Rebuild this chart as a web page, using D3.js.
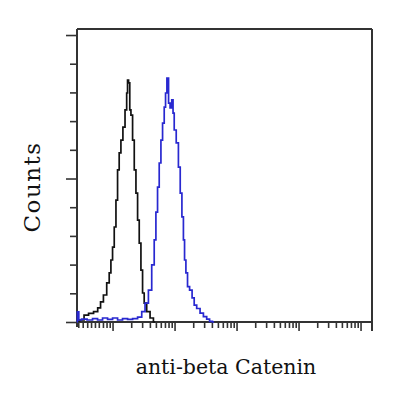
<!DOCTYPE html>
<html>
<head>
<meta charset="utf-8">
<script src="https://cdn.jsdelivr.net/npm/d3@7"></script>
<style>
  html, body { margin: 0; padding: 0; background: #fff; }
  svg { display: block; }
</style>
</head>
<body>
<div id="chart"></div>
<script>
// isotype control (black) : [intensity, count]
const controlSeries = [
  [0.268, 0.35], [0.322, 0.7], [0.374, 2.4], [0.450, 3.0], [0.542, 3.6], [0.612, 4.9],
  [0.670, 7.0], [0.757, 9.4], [0.856, 13.6], [0.911, 17.1], [0.971, 21.6], [1.03, 26.1],
  [1.10, 33.1], [1.17, 42.5], [1.24, 53.0], [1.32, 58.9], [1.41, 63.4], [1.53, 67.9],
  [1.65, 73.9], [1.73, 79.8], [1.76, 84.3], [1.87, 83.3], [1.92, 73.9], [2.04, 72.1],
  [2.17, 63.4], [2.31, 53.0], [2.46, 44.9], [2.61, 35.5], [2.78, 27.5], [2.96, 18.1],
  [3.14, 10.1], [3.34, 6.6], [3.78, 3.6], [4.29, 1.4], [4.85, 0]
];

// anti-beta Catenin (blue)
const stainedSeries = [
  [0.268, 0], [0.273, 3.5], [0.283, 3.5], [0.288, 0.7], [0.347, 1.0], [0.434, 0.7],
  [0.522, 1.2], [0.629, 0.7], [0.757, 1.4], [0.911, 0.9], [1.10, 1.4], [1.32, 0.7],
  [1.59, 1.2], [1.92, 0.9], [2.31, 1.2], [2.78, 1.7], [3.14, 3.6], [3.56, 6.6],
  [4.03, 11.1], [4.55, 19.9], [4.85, 28.6], [5.16, 38.3], [5.48, 47.0], [5.84, 55.4],
  [6.22, 63.4], [6.60, 69.3], [7.03, 74.9], [7.29, 79.8], [7.77, 85.0], [8.25, 76.3],
  [8.69, 74.6], [9.35, 77.4], [9.56, 72.8], [10.2, 66.9], [11.1, 62.4], [12.0, 54.0],
  [12.7, 44.9], [13.6, 36.6], [14.2, 28.6], [14.8, 21.6], [15.7, 17.1], [16.7, 12.3],
  [18.3, 11.1], [20.1, 8.4], [21.4, 5.9], [24.2, 4.7], [27.5, 3.1], [31.0, 1.9],
  [35.1, 1.0], [38.4, 0.2], [43.4, 0]
];

const yTicks = [0, 10, 20, 30, 40, 50, 60, 70, 80, 90, 100];
const yMajorTicks = [0, 50, 100];
const xMajorTicks = [1, 10, 100, 1000, 10000];
const xFirstTicks = [0.28, 0.33, 0.39, 0.45, 0.52, 0.6, 0.7, 0.8, 0.9];
const xMinorSteps = [2, 3, 4, 5, 6, 7, 8, 9];

const xLabel = 'anti-beta Catenin';
const yLabel = 'Counts';

const width = 400, height = 399;
const margin = { top: 29, right: 28, bottom: 77, left: 77 };

const svg = d3.select('#chart').append('svg')
  .attr('width', width)
  .attr('height', height);

const x = d3.scaleLog()
  .domain([0.267, 15300])
  .range([margin.left, width - margin.right]);

const y = d3.scaleLinear()
  .domain([0, 102.1])
  .range([height - margin.bottom, margin.top]);

const frameColor = '#333';

// minor ticks for each full decade
const xMinorTicks = xFirstTicks.slice();
xMajorTicks.forEach(d => {
  xMinorSteps.forEach(s => {
    if (d * s < x.domain()[1]) xMinorTicks.push(d * s);
  });
});

// frame
const frame = svg.append('g');
frame.append('line')
  .attr('x1', x.range()[0]).attr('x2', x.range()[1])
  .attr('y1', y.range()[1]).attr('y2', y.range()[1]);
frame.append('line')
  .attr('x1', x.range()[1]).attr('x2', x.range()[1])
  .attr('y1', y.range()[1]).attr('y2', y.range()[0] + 9);
frame.append('line')
  .attr('x1', x.range()[0]).attr('x2', x.range()[0])
  .attr('y1', y.range()[1]).attr('y2', y.range()[0] + 5);
frame.append('line')
  .attr('x1', x.range()[0]).attr('x2', x.range()[1])
  .attr('y1', y.range()[0]).attr('y2', y.range()[0]);
frame.selectAll('line')
  .attr('stroke', frameColor)
  .attr('stroke-width', 2);

// axes, no labels
function styleAxis(g) {
  g.select('.domain').remove();
  g.selectAll('.tick line').attr('stroke', frameColor).attr('stroke-width', 1.6);
  g.selectAll('.tick text').remove();
}

svg.append('g')
  .attr('transform', `translate(${x.range()[0]},0)`)
  .call(d3.axisLeft(y).tickValues(yTicks.filter(d => !yMajorTicks.includes(d))).tickSize(7).tickFormat(''))
  .call(styleAxis);

svg.append('g')
  .attr('transform', `translate(${x.range()[0]},0)`)
  .call(d3.axisLeft(y).tickValues(yMajorTicks).tickSize(11).tickFormat(''))
  .call(styleAxis);

svg.append('g')
  .attr('transform', `translate(0,${y.range()[0]})`)
  .call(d3.axisBottom(x).tickValues(xMinorTicks).tickSize(6).tickFormat(''))
  .call(styleAxis);

svg.append('g')
  .attr('transform', `translate(0,${y.range()[0]})`)
  .call(d3.axisBottom(x).tickValues(xMajorTicks).tickSize(9).tickFormat(''))
  .call(styleAxis);

// histograms
const line = d3.line()
  .x(d => x(d[0]))
  .y(d => y(d[1]))
  .curve(d3.curveStep);

svg.append('path')
  .datum(controlSeries)
  .attr('fill', 'none')
  .attr('stroke', '#111')
  .attr('stroke-width', 1.7)
  .attr('d', line);

svg.append('path')
  .datum(stainedSeries)
  .attr('fill', 'none')
  .attr('stroke', '#2828d0')
  .attr('stroke-width', 1.7)
  .attr('d', line);

// labels
svg.append('text')
  .attr('x', 226)
  .attr('y', 374)
  .attr('text-anchor', 'middle')
  .attr('font-family', 'DejaVu Serif')
  .attr('font-size', 20.5)
  .attr('fill', '#111')
  .text(xLabel);

svg.append('text')
  .attr('transform', 'translate(40,187) rotate(-90)')
  .attr('text-anchor', 'middle')
  .attr('font-family', 'DejaVu Serif')
  .attr('font-size', 23)
  .attr('letter-spacing', 1.5)
  .attr('fill', '#111')
  .text(yLabel);
</script>
</body>
</html>
